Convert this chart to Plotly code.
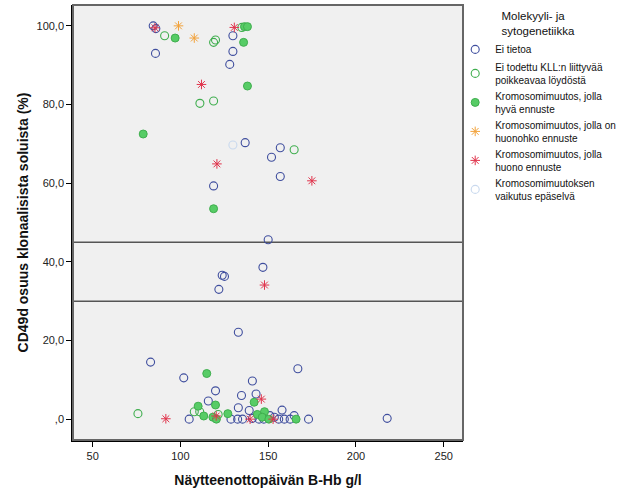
import plotly.graph_objects as go

# Data: x = Näytteenottopäivän B-Hb g/l, y = CD49d osuus (%)
ei_tietoa_x = [84.5, 86.0, 85.8, 129.9, 129.9, 128.1, 136.9, 156.9, 151.9, 156.9, 118.9, 150.0,
               147.0, 123.8, 125.1, 121.9, 133.0, 83.0, 101.9, 141.0, 120.0, 134.8, 143.1, 115.9,
               133.0, 139.2, 166.9, 157.9, 164.8, 151.0, 105.0, 128.8, 132.6, 135.4, 144.8, 156.0,
               159.2, 162.5, 173.0, 217.8, 141.0, 147.5, 153.5]
ei_tietoa_y = [100.0, 99.3, 93.0, 97.5, 93.5, 90.2, 70.3, 69.0, 66.6, 61.7, 59.3, 45.6,
               38.6, 36.6, 36.3, 33.0, 22.1, 14.5, 10.5, 9.7, 7.2, 6.0, 6.4, 4.6,
               2.9, 2.2, 12.8, 2.3, 0.9, 0.9, 0.0, 0.0, 0.0, 0.0, 0.0, 0.0,
               0.0, 0.0, 0.0, 0.2, 0.2, 0.0, 0.5]

ei_todettu_x = [91.0, 118.9, 120.0, 135.0, 164.8, 111.1, 118.9, 75.8, 107.9, 111.0, 121.5]
ei_todettu_y = [97.5, 95.8, 96.4, 99.6, 68.5, 80.3, 80.9, 1.4, 1.9, 1.9, 1.2]

hyva_x = [97.0, 136.5, 138.2, 136.0, 138.2, 78.8, 118.9, 115.0, 142.0, 110.1, 120.0, 147.9,
          127.0, 143.8, 165.9, 146.6, 150.4, 118.5, 120.5, 113.3]
hyva_y = [96.9, 99.8, 99.8, 95.8, 84.7, 72.5, 53.5, 11.6, 4.3, 3.3, 3.6, 1.9,
          1.4, 1.2, 0.0, 0.5, 0.0, 0.5, 0.0, 0.8]

huonohko_x = [98.9, 107.9]
huonohko_y = [100.0, 96.9]

huono_x = [85.5, 130.7, 112.0, 120.8, 174.9, 147.9, 146.1, 91.7, 139.7, 152.8, 120.4]
huono_y = [99.5, 99.6, 85.1, 64.9, 60.6, 34.1, 5.1, 0.1, 0.0, 0.0, 0.8]

epaselva_x = [129.9]
epaselva_y = [69.7]

ref_lines = [45.0, 30.0]

x_ticks = [50, 100, 150, 200, 250]
y_ticks = [0, 20, 40, 60, 80, 100]
y_ticktext = [",0", "20,0", "40,0", "60,0", "80,0", "100,0"]

names = ["Ei tietoa",
         "Ei todettu KLL:n liittyvää<br>poikkeavaa löydöstä",
         "Kromosomimuutos, jolla<br>hyvä ennuste",
         "Kromosomimuutos, jolla on<br>huonohko ennuste",
         "Kromosomimuutos, jolla<br>huono ennuste",
         "Kromosomimuutoksen<br>vaikutus epäselvä"]

fig = go.Figure()
fig.add_trace(go.Scatter(x=ei_tietoa_x, y=ei_tietoa_y, mode="markers", name=names[0],
                         marker=dict(symbol="circle-open", size=8, color="#3f4e9e", line=dict(width=1.1))))
fig.add_trace(go.Scatter(x=ei_todettu_x, y=ei_todettu_y, mode="markers", name=names[1],
                         marker=dict(symbol="circle-open", size=8, color="#3fae4e", line=dict(width=1.1))))
fig.add_trace(go.Scatter(x=hyva_x, y=hyva_y, mode="markers", name=names[2],
                         marker=dict(symbol="circle", size=8, color="#57cc66",
                                     line=dict(width=1, color="#3fae4e"))))
fig.add_trace(go.Scatter(x=huonohko_x, y=huonohko_y, mode="markers", name=names[3],
                         marker=dict(symbol="asterisk-open", size=8, color="#f2a23a",
                                     line=dict(width=1, color="#f2a23a"))))
fig.add_trace(go.Scatter(x=huono_x, y=huono_y, mode="markers", name=names[4],
                         marker=dict(symbol="asterisk-open", size=8, color="#e0344c",
                                     line=dict(width=1, color="#e0344c"))))
fig.add_trace(go.Scatter(x=epaselva_x, y=epaselva_y, mode="markers", name=names[5],
                         marker=dict(symbol="circle-open", size=8, color="#c9d9ee", line=dict(width=1.1))))

for yv in ref_lines:
    fig.add_shape(type="line", xref="paper", x0=0, x1=1, yref="y", y0=yv, y1=yv,
                  line=dict(color="#555555", width=1.5), layer="below")

fig.add_shape(type="rect", xref="paper", yref="paper", x0=0, x1=1, y0=0, y1=1,
              line=dict(color="#666666", width=2), layer="above")

fig.update_layout(
    width=626, height=501,
    margin=dict(l=73, r=157, t=5, b=61),
    paper_bgcolor="white",
    plot_bgcolor="#f0f0f0",
    font=dict(family="Liberation Sans, Arial, sans-serif", size=11, color="#222222"),
    showlegend=True,
    legend=dict(
        x=0.98, xanchor="left", y=1.0, yanchor="top",
        bgcolor="rgba(0,0,0,0)",
        font=dict(size=10, color="#111111"),
        title=dict(text="Molekyyli- ja<br>sytogenetiikka", side="top center",
                   font=dict(size=11.5, color="#111111")),
        itemwidth=30, tracegroupgap=0,
    ),
    xaxis=dict(
        range=[38.8, 261], tickvals=x_ticks, ticktext=[str(v) for v in x_ticks],
        showgrid=False, zeroline=False, showline=True, linecolor="black", linewidth=1.5,
        ticks="outside", ticklen=5, tickcolor="black",
        title=dict(text="<b>Näytteenottopäivän B-Hb g/l</b>", font=dict(size=14, color="#111111"),
                   standoff=14),
    ),
    yaxis=dict(
        range=[-5.3, 105.3], tickvals=y_ticks, ticktext=y_ticktext,
        showgrid=False, zeroline=False, showline=True, linecolor="black", linewidth=1.5,
        ticks="outside", ticklen=5, tickcolor="black",
        title=dict(text="<b>CD49d osuus klonaalisista soluista (%)</b>", font=dict(size=14, color="#111111"),
                   standoff=5),
    ),
)

fig.write_html("out.html")
